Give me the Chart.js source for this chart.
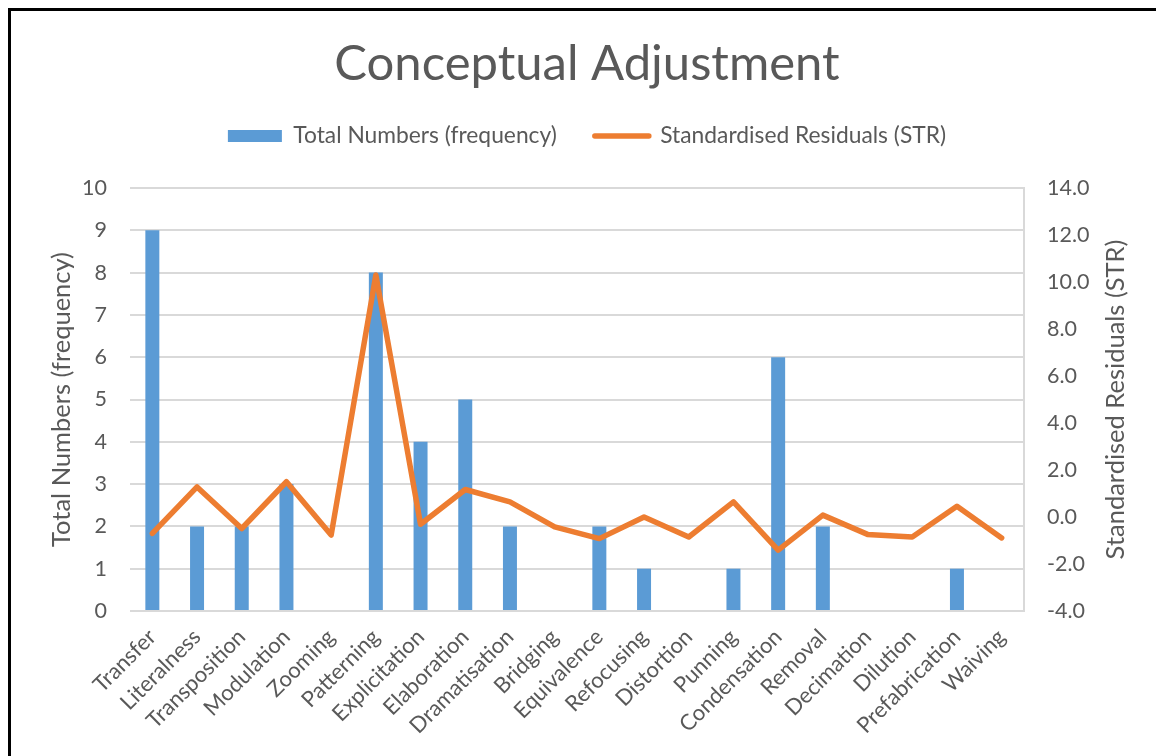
<!DOCTYPE html>
<html>
<head>
<meta charset="utf-8">
<title>Conceptual Adjustment</title>
<script src="https://cdn.jsdelivr.net/npm/chart.js@4.4.1/dist/chart.umd.min.js"></script>
<style>
  html, body { margin: 0; padding: 0; background: #ffffff; overflow: hidden; width: 1156px; height: 756px; }
  #frame { position: absolute; left: 8px; top: 8px; width: 1300px; height: 900px; border: 3px solid #000; box-sizing: border-box; }
  #wrap { position: absolute; left: 0; top: 0; width: 1174px; height: 756px; }
</style>
</head>
<body>
<div id="frame"></div>
<div id="wrap"><canvas id="chart" width="1174" height="756"></canvas></div>
<script>
const categories = ['Transfer', 'Literalness', 'Transposition', 'Modulation', 'Zooming', 'Patterning',
  'Explicitation', 'Elaboration', 'Dramatisation', 'Bridging', 'Equivalence', 'Refocusing',
  'Distortion', 'Punning', 'Condensation', 'Removal', 'Decimation', 'Dilution', 'Prefabrication', 'Waiving'];
const frequency = [9, 2, 2, 3, 0, 8, 4, 5, 2, 0, 2, 1, 0, 1, 6, 2, 0, 0, 1, 0];
const residuals = [-0.70, 1.28, -0.49, 1.50, -0.77, 10.30, -0.31, 1.17, 0.64, -0.42,
  -0.92, 0.00, -0.85, 0.64, -1.41, 0.08, -0.74, -0.85, 0.46, -0.89];
const leftTicks = [0, 1, 2, 3, 4, 5, 6, 7, 8, 9, 10];
const rightTicks = [-4, -2, 0, 2, 4, 6, 8, 10, 12, 14];

const BLUE = '#5b9bd5';
const ORANGE = '#ed7d31';
const TEXT = '#595959';
const GRID = '#d9d9d9';
const FONT = 'Lato, "Open Sans", sans-serif';

// Right-hand axis title, reading bottom to top like the left one
const rightTitle = {
  id: 'rightTitle',
  afterDraw(chart) {
    const s = chart.scales.y1;
    const ctx = chart.ctx;
    ctx.save();
    ctx.fillStyle = TEXT;
    ctx.font = '25.5px ' + FONT;
    ctx.textAlign = 'center';
    ctx.textBaseline = 'middle';
    ctx.translate(1116, (s.top + s.bottom) / 2);
    ctx.rotate(-Math.PI / 2);
    ctx.fillText('Standardised Residuals (STR)', 0, 0);
    ctx.restore();
  }
};

new Chart(document.getElementById('chart'), {
  data: {
    labels: categories,
    datasets: [
      {
        type: 'bar',
        label: 'Total Numbers (frequency)',
        data: frequency,
        yAxisID: 'y',
        backgroundColor: BLUE,
        borderWidth: 0,
        barPercentage: 1,
        categoryPercentage: 0.313,
        order: 1
      },
      {
        type: 'line',
        label: 'Standardised Residuals (STR)',
        data: residuals,
        yAxisID: 'y1',
        borderColor: ORANGE,
        backgroundColor: ORANGE,
        borderWidth: 5.5,
        borderJoinStyle: 'round',
        borderCapStyle: 'round',
        pointRadius: 0,
        tension: 0,
        order: 0
      }
    ]
  },
  options: {
    responsive: false,
    animation: false,
    devicePixelRatio: 1,
    layout: { padding: { left: 0, right: 0, top: 0, bottom: 0 } },
    plugins: {
      title: {
        display: true,
        text: 'Conceptual Adjustment',
        color: TEXT,
        font: { family: FONT, size: 49, weight: 'normal' },
        padding: { top: 35, bottom: -7.2 }
      },
      // empty spacer between the legend and the plot area
      subtitle: {
        display: true,
        text: '',
        weight: 500,
        font: { family: FONT, size: 10 },
        padding: { top: 18.6, bottom: 0 }
      },
      legend: {
        display: true,
        position: 'top',
        labels: {
          color: TEXT,
          font: { family: FONT, size: 22.8 },
          usePointStyle: true,
          pointStyleWidth: 54,
          boxHeight: 12,
          padding: 38,
          sort: (a, b) => a.datasetIndex - b.datasetIndex,
          generateLabels(chart) {
            const items = Chart.defaults.plugins.legend.labels.generateLabels(chart);
            items.forEach(it => {
              if (it.datasetIndex === 1) {
                it.pointStyle = 'line';
                it.lineWidth = 5.5;
                it.strokeStyle = ORANGE;
                it.fillStyle = ORANGE;
                it.lineCap = 'round';
              } else {
                it.pointStyle = 'rect';
                it.lineWidth = 0;
                it.fillStyle = BLUE;
                it.strokeStyle = BLUE;
              }
            });
            return items;
          }
        }
      },
      tooltip: { enabled: false }
    },
    scales: {
      x: {
        type: 'category',
        offset: true,
        grid: { display: false },
        border: { display: false },
        ticks: {
          color: TEXT,
          font: { family: FONT, size: 22 },
          minRotation: 45,
          maxRotation: 45,
          autoSkip: false,
          padding: 5
        },
        afterFit(scale) { scale.height = 145; }
      },
      y: {
        type: 'linear',
        position: 'left',
        min: 0,
        max: 10,
        afterBuildTicks(scale) { scale.ticks = leftTicks.map(v => ({ value: v })); },
        grid: { color: GRID, lineWidth: 2, drawTicks: false },
        border: { display: false },
        ticks: {
          color: TEXT,
          font: { family: FONT, size: 21.5 },
          padding: 23
        },
        title: {
          display: true,
          text: 'Total Numbers (frequency)',
          color: TEXT,
          font: { family: FONT, size: 25.5 },
          padding: { top: 46, bottom: 0 }
        },
        afterFit(scale) { scale.width = 130; }
      },
      y1: {
        type: 'linear',
        position: 'right',
        min: -4,
        max: 14,
        afterBuildTicks(scale) { scale.ticks = rightTicks.map(v => ({ value: v })); },
        grid: { display: false, drawTicks: false },
        border: { display: true, color: GRID, width: 2 },
        ticks: {
          color: TEXT,
          font: { family: FONT, size: 21.5 },
          padding: 23,
          callback: v => Number(v).toFixed(1)
        },
        afterFit(scale) { scale.width = 150; }
      }
    }
  },
  plugins: [rightTitle]
});
</script>
</body>
</html>
